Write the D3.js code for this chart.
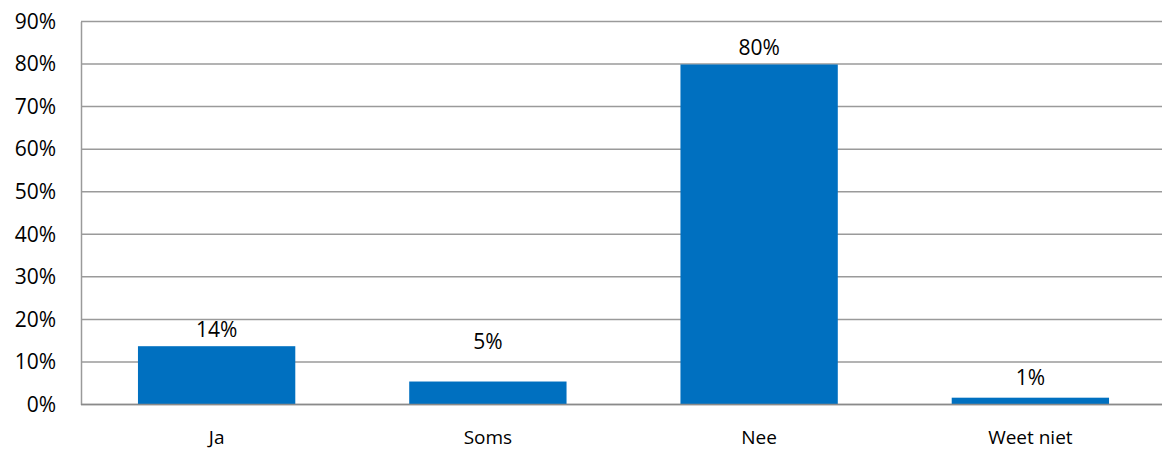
<!DOCTYPE html>
<html>
<head>
<meta charset="utf-8">
<script src="https://cdn.jsdelivr.net/npm/d3@7"></script>
<style>
  body { margin: 0; background: #fff; }
  svg { display: block; }
</style>
</head>
<body>
<div id="chart"></div>
<script>
// answers and their share (percent)
var categories = ["Ja", "Soms", "Nee", "Weet niet"];
var values = [13.7, 5.4, 79.9, 1.6];
var valueLabels = ["14%", "5%", "80%", "1%"];
var yTicks = [0, 10, 20, 30, 40, 50, 60, 70, 80, 90];

// labels sit at different heights above the bars in the original
var labelLift = [9, 33, 9, 13];

var width = 1162, height = 460;
var margin = { top: 21.5, right: -4, bottom: 55.5, left: 81 };
var innerW = width - margin.left - margin.right;
var innerH = height - margin.top - margin.bottom;
var font = "'Open Sans', 'Noto Sans', sans-serif";

var svg = d3.select("#chart").append("svg")
  .attr("width", width)
  .attr("height", height);

var g = svg.append("g")
  .attr("transform", "translate(" + margin.left + "," + margin.top + ")");

var x = d3.scaleBand()
  .domain(categories)
  .range([0, innerW])
  .paddingInner(0.42)
  .paddingOuter(0.21);

var y = d3.scaleLinear()
  .domain([0, 90])
  .range([innerH, 0]);

// gridlines
g.append("g")
  .selectAll("line")
  .data(yTicks)
  .enter()
  .append("line")
  .attr("x1", 0)
  .attr("x2", innerW)
  .attr("y1", function (d) { return y(d); })
  .attr("y2", function (d) { return y(d); })
  .style("stroke", "#9a9a9a")
  .style("stroke-width", 1.5);

// y axis
var yAxis = g.append("g")
  .call(d3.axisLeft(y).tickValues(yTicks).tickSize(0).tickPadding(25)
    .tickFormat(function (d) { return d + "%"; }));
yAxis.select(".domain").style("stroke", "#9a9a9a").style("stroke-width", 1.5);
yAxis.selectAll("text")
  .style("font-family", font)
  .style("font-size", "21px")
  .style("fill", "#000");

// bars
g.append("g")
  .selectAll("rect")
  .data(values)
  .enter()
  .append("rect")
  .attr("x", function (d, i) { return x(categories[i]); })
  .attr("y", function (d) { return y(d); })
  .attr("width", x.bandwidth())
  .attr("height", function (d) { return innerH - y(d); })
  .style("fill", "#0070c0");

// x axis line
g.append("line")
  .attr("x1", 0)
  .attr("x2", innerW)
  .attr("y1", innerH)
  .attr("y2", innerH)
  .style("stroke", "#8a8a8a")
  .style("stroke-width", 1.5);

// category labels
g.append("g")
  .selectAll("text")
  .data(categories)
  .enter()
  .append("text")
  .attr("x", function (d) { return x(d) + x.bandwidth() / 2; })
  .attr("y", innerH + 39)
  .attr("text-anchor", "middle")
  .style("font-family", font)
  .style("font-size", "19px")
  .style("fill", "#000")
  .text(function (d) { return d; });

// value labels
g.append("g")
  .selectAll("text")
  .data(values)
  .enter()
  .append("text")
  .attr("x", function (d, i) { return x(categories[i]) + x.bandwidth() / 2; })
  .attr("y", function (d, i) { return y(d) - labelLift[i]; })
  .attr("text-anchor", "middle")
  .style("font-family", font)
  .style("font-size", "21px")
  .style("fill", "#000")
  .text(function (d, i) { return valueLabels[i]; });
</script>
</body>
</html>
